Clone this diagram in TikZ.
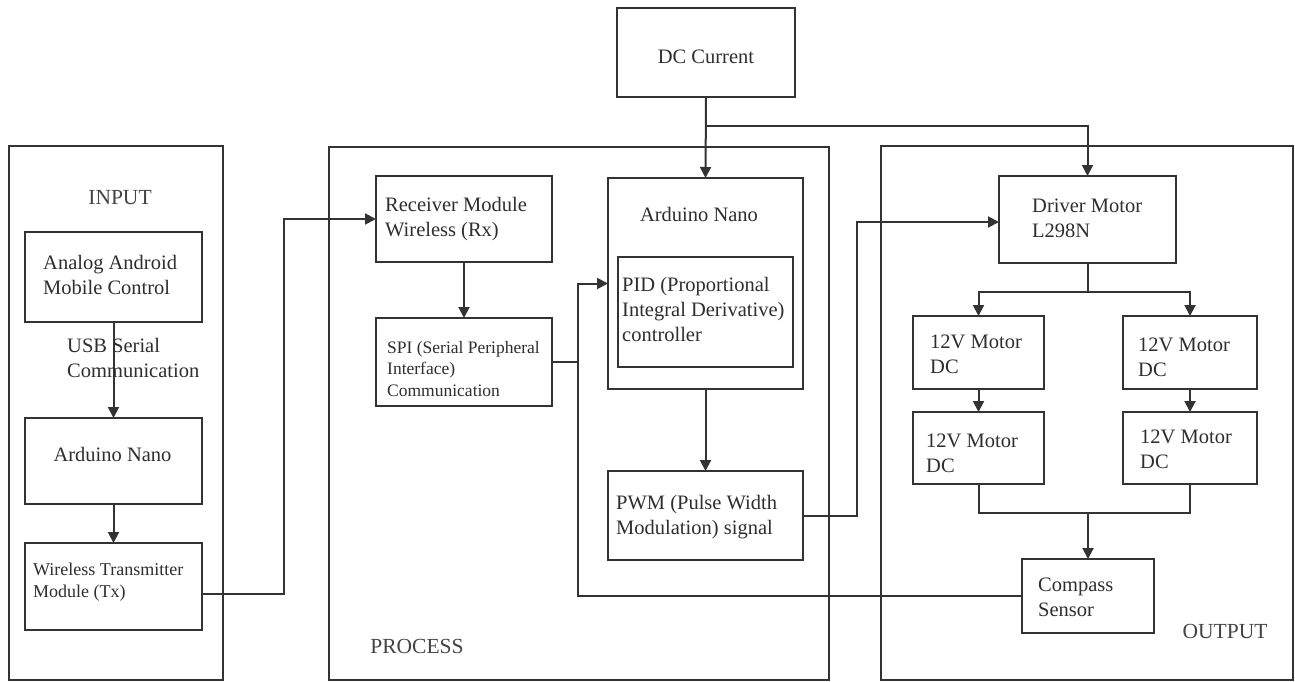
\documentclass[tikz,border=0pt]{standalone}
\usepackage{fontspec}
\setmainfont{Liberation Serif}
\usetikzlibrary{arrows.meta,calc}
\definecolor{ln}{HTML}{333333}
\definecolor{tx}{HTML}{2E2E2E}
\definecolor{lb}{HTML}{444444}
\begin{document}
\begin{tikzpicture}[x=1pt,y=-1pt,
  box/.style={draw=ln,line width=2pt,rectangle,inner sep=0pt,outer sep=0pt},
  panel/.style={draw=ln,line width=2pt,rectangle,inner sep=0pt,outer sep=0pt},
  conn/.style={draw=ln,line width=2pt},
  arr/.style={conn,-{Triangle[length=11pt,width=11pt]}},
  txt/.style={inner sep=0pt,text=tx,align=left,font=\fontsize{20.5}{25}\selectfont},
  stx/.style={inner sep=0pt,text=tx,align=left,font=\fontsize{18}{22}\selectfont},
  lbl/.style={inner sep=0pt,text=lb,font=\fontsize{21.5}{26}\selectfont}]
\useasboundingbox[fill=white] (0,0) rectangle (1295,682);
% panels
\node[panel,minimum width=214pt,minimum height=534pt] (inP) at (116,413) {};
\node[panel,minimum width=500pt,minimum height=533pt] (prP) at (579,413.5) {};
\node[panel,minimum width=412pt,minimum height=534pt] (ouP) at (1087,413) {};
% boxes
\node[box,minimum width=178pt,minimum height=89pt] (dc) at (706,52.5) {};
\node[box,minimum width=177pt,minimum height=90pt] (analog) at (113.5,277) {};
\node[box,minimum width=177pt,minimum height=86pt] (ardIn) at (113.5,461) {};
\node[box,minimum width=177pt,minimum height=87pt] (txm) at (113.5,586.5) {};
\node[box,minimum width=176pt,minimum height=86pt] (rx) at (464,219) {};
\node[box,minimum width=176pt,minimum height=88pt] (spi) at (464,362) {};
\node[box,minimum width=195pt,minimum height=211pt] (ard) at (705.5,283.5) {};
\node[box,minimum width=175pt,minimum height=110pt] (pid) at (705.5,312) {};
\node[box,minimum width=195pt,minimum height=89pt] (pwm) at (705.5,515.5) {};
\node[box,minimum width=177pt,minimum height=87pt] (drv) at (1087.5,219.5) {};
\node[box,minimum width=131pt,minimum height=73pt] (m1) at (978.5,352.5) {};
\node[box,minimum width=134pt,minimum height=73pt] (m2) at (1190,352.5) {};
\node[box,minimum width=131pt,minimum height=72pt] (m3) at (978.5,448) {};
\node[box,minimum width=134pt,minimum height=72pt] (m4) at (1190,448) {};
\node[box,minimum width=132pt,minimum height=74pt] (cmp) at (1088,596) {};
% junction coordinates
\coordinate (jx) at (578,0);
\coordinate (jx2) at (857,0);
\coordinate (jy) at (0,126);
\coordinate (sp) at ($(drv.south)+(0,29)$);
\coordinate (mj) at (1088,513);
% connectors
\draw[arr] (analog.south) -- (ardIn.north);
\draw[arr] (ardIn.south) -- (txm.north);
\draw[arr] ([yshift=-7.5pt]txm.east) -- ++(82,0) |- (rx.west);
\draw[arr] (rx.south) -- (spi.north);
\draw[conn] (spi.east) -- (spi.east -| jx);
\draw[arr] (cmp.west) -| (jx |- ard.west) -- (ard.west);
\draw[arr] (ard.south) -- (pwm.north);
\draw[arr] (pwm.east) -- (pwm.east -| jx2) |- ([yshift=-2.5pt]drv.west);
\draw[arr] (dc.south) -- (ard.north);
\draw[arr] (dc.south |- jy) -| (drv.north);
\draw[conn] (drv.south) -- (sp);
\draw[arr] (sp) -| (m1.north);
\draw[arr] (sp) -| (m2.north);
\draw[arr] (m1.south) -- (m3.north);
\draw[arr] (m2.south) -- (m4.north);
\draw[conn] (m3.south) |- (m4.south |- mj) -- (m4.south);
\draw[arr] (mj) -- (cmp.north);
% labels
\node[lbl] (lIn) at (120,198) {INPUT};
\node[lbl] (lPr) at (417,646) {PROCESS};
\node[lbl] (lOu) at (1225,631) {OUTPUT};
% texts
\node[txt,anchor=base] (tDc) at (706,64) {DC Current};
\node[txt,anchor=north west] (tAn) at (43,251.5) {\strut Analog Android\\Mobile Control};
\node[txt,anchor=north west] (tUsb) at (67,335) {\strut USB Serial\\Communication};
\node[txt,anchor=base] (tArdIn) at (112.5,461) {Arduino Nano};
\node[stx,anchor=north west] (tTx) at (33,559.6) {\strut Wireless Transmitter\\Module (Tx)};
\node[txt,anchor=north west] (tRx) at (385,193.5) {\strut Receiver Module\\Wireless (Rx)};
\node[stx,anchor=north west,font=\fontsize{17.5}{21.5}\selectfont] (tSpi) at (387,338) {\strut SPI (Serial Peripheral\\Interface)\\Communication};
\node[txt,anchor=base] (tArd) at (699,221) {Arduino Nano};
\node[txt,anchor=north west] (tPid) at (622,273.5) {\strut PID (Proportional\\Integral Derivative)\\controller};
\node[txt,anchor=north west] (tPwm) at (616,491.5) {\strut PWM (Pulse Width\\Modulation) signal};
\node[txt,anchor=north west] (tDrv) at (1032,194.5) {\strut Driver Motor\\L298N};
\node[txt,anchor=north west] (tM1) at (930,330.5) {\strut 12V Motor\\DC};
\node[txt,anchor=north west] (tM2) at (1138,333.5) {\strut 12V Motor\\DC};
\node[txt,anchor=north west] (tM3) at (926,429.5) {\strut 12V Motor\\DC};
\node[txt,anchor=north west] (tM4) at (1140,425.5) {\strut 12V Motor\\DC};
\node[txt,anchor=north west] (tCmp) at (1038,573.5) {\strut Compass\\Sensor};
\end{tikzpicture}
\end{document}
